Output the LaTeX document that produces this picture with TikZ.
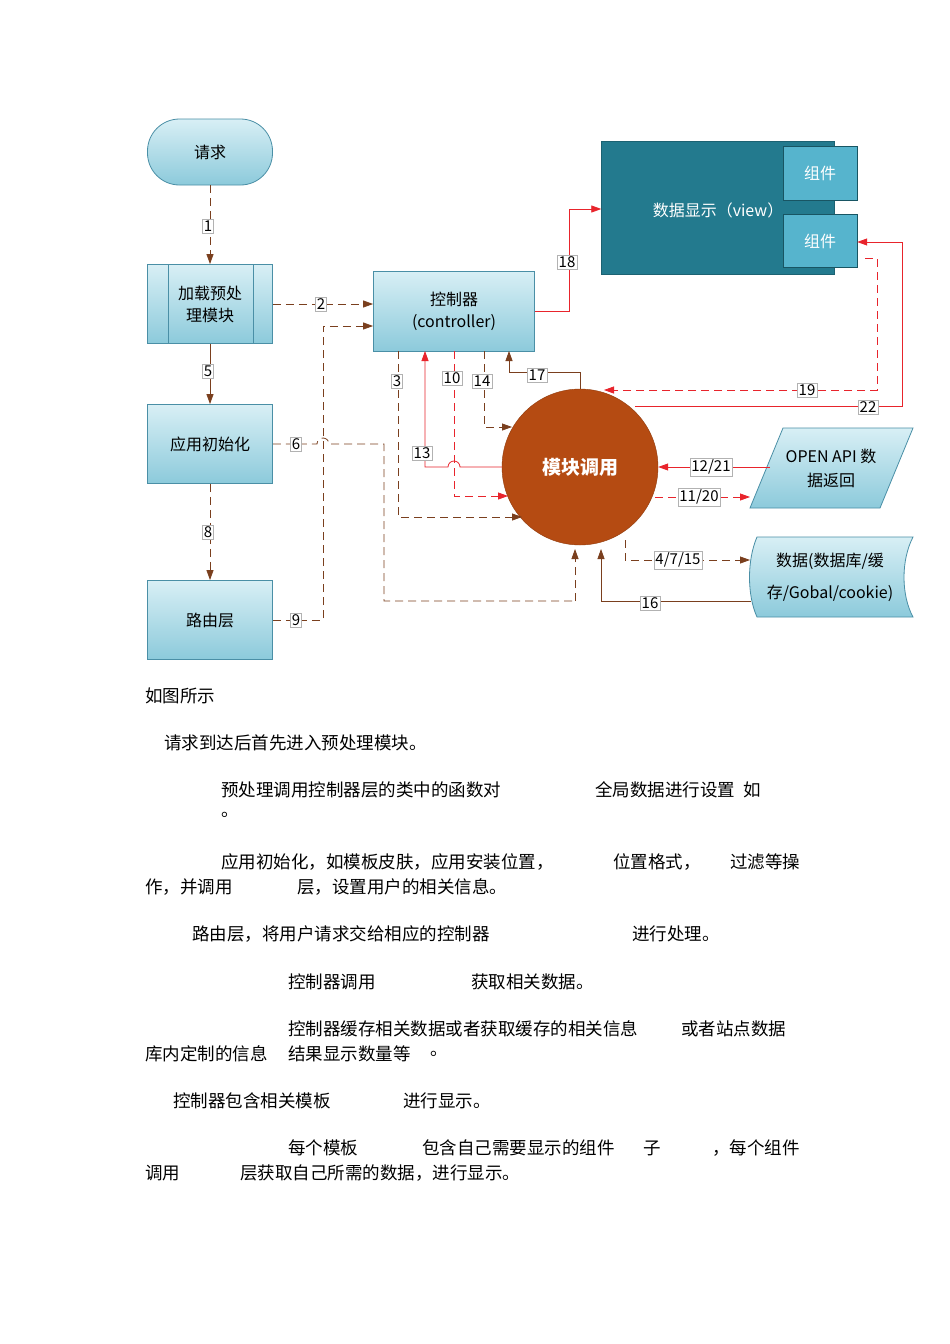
\documentclass[tikz,border=0pt]{standalone}
\usepackage{fontspec}
\setmainfont{Noto Sans CJK SC}
\newfontfamily\cjk{Noto Sans CJK SC}
\usetikzlibrary{arrows.meta,shapes.geometric}
\definecolor{brn}{HTML}{7A3F1E}
\definecolor{rd}{HTML}{E8242C}
\definecolor{bxt}{HTML}{D8EFF5}
\definecolor{bxb}{HTML}{8CCADB}
\definecolor{bxd}{HTML}{4A8FA6}
\definecolor{vw}{HTML}{237A8E}
\definecolor{cmp}{HTML}{56B4CD}
\definecolor{org}{HTML}{B54B12}
\begin{document}
\begin{tikzpicture}[x=1pt,y=-1pt,
 bx/.style={draw=bxd,thick,top color=bxt,bottom color=bxb,minimum width=125pt,minimum height=79pt,font=\fontsize{16}{22}\selectfont,align=center},
 lbl/.style={draw=gray!60,fill=white,inner sep=1.5pt,font=\fontsize{15}{15}\selectfont},
 bd/.style={brn,thick,dash pattern=on 8pt off 5pt,-{Triangle[length=10pt,width=7pt]}},
 bs/.style={brn,thick,-{Triangle[length=10pt,width=7pt]}},
 rdd/.style={rd,thick,dash pattern=on 8pt off 5pt,-{Triangle[length=10pt,width=7pt]}},
 rs/.style={rd,thick,-{Triangle[length=10pt,width=7pt]}},
 tx/.style={anchor=west,inner sep=0pt,font=\fontsize{17.5}{18}\selectfont}]
\useasboundingbox[fill=white] (0,0) rectangle (950,1344);
% nodes
\node[bx,rounded corners=32pt,minimum height=66pt] (req) at (210,152) {请求};
\node[bx] (pre) at (210,304) {加载预处\\理模块};
\draw[bxd,thick] (168,265) -- (168,344) (253,265) -- (253,344);
\node[bx] (init) at (210,444) {应用初始化};
\node[bx] (route) at (210,620) {路由层};
\node[bx,minimum width=161pt,minimum height=80pt] (ctrl) at (454,311) {控制器\\(controller)};
\node[draw=vw!80!black,fill=vw,minimum width=233pt,minimum height=133pt] (view) at (718,208) {};
\node[text=white,font=\fontsize{16}{16}\selectfont] (vt) at (718,210) {数据显示（view）};
\node[draw=vw!70!black,fill=cmp,minimum width=74pt,minimum height=54pt,text=white,font=\fontsize{16}{16}\selectfont] (c1) at (820,173) {组件};
\node[draw=vw!70!black,fill=cmp,minimum width=74pt,minimum height=53pt,text=white,font=\fontsize{16}{16}\selectfont] (c2) at (820,241) {组件};
\node[circle,draw=org!80!black,fill=org,minimum size=156pt,text=white,font=\bfseries\fontsize{19}{19}\selectfont] (mod) at (580,467) {模块调用};
\draw[bxd,thick,top color=bxt,bottom color=bxb] (783,428) -- (913,428) -- (880,508) -- (750,508) -- cycle;
\node[align=center,font=\fontsize{16}{24}\selectfont] (api) at (831,468) {OPEN API 数\\据返回};
\draw[bxd,thick,top color=bxt,bottom color=bxb] (757,537) -- (913,537) .. controls (901,560) and (901,595) .. (913,617) -- (757,617) .. controls (747,595) and (747,560) .. (757,537) -- cycle;
\node[align=center,font=\fontsize{16}{32}\selectfont] (data) at (830,577) {数据(数据库/缓\\存/Gobal/cookie)};
% connectors
\draw[bd] (req) -- (pre);
\draw[bs] (pre) -- (init);
\draw[bd] (init) -- (route);
\draw[bd] (pre.east) -- (ctrl.west|-pre.east);
\draw[bd] (route.east) -- (323,620) -- (323,326) -- (ctrl.west|-0,326);
\draw[brn,thick,dash pattern=on 8pt off 5pt] (init.east) -- (317,444) arc[start angle=180,end angle=360,radius=6] -- (384,444) -- (384,601) -- (575,601);
\draw[bd] (575,601) -- (575,549);
\draw[bd] (398,351) -- (398,517) -- (522,517);
\draw[rdd] (454,351) -- (454,496) -- (508,496);
\draw[bd] (484,351) -- (484,427) -- (512,427);
\draw[rs] (mod.west) -- (460,467) arc[start angle=0,end angle=-180,radius=6] -- (425,467) -- (425,351);
\draw[bs] (mod.north) -- (580,372) -- (509,372) -- (509,351);
\draw[rs] (ctrl.east|-0,311) -- (569,311) -- (569,209) -- (view.west|-0,209);
\draw[rdd] (865,258) -- (877,258) -- (877,390) -- (604,390);
\draw[rs] (635,406) -- (902,406) -- (902,242) -- (c2.east|-0,242);
\draw[rs] (770,467) -- (mod.east);
\draw[rdd] (655,497) -- (750,497);
\draw[bd] (625,540) -- (625,560) -- (750,560);
\draw[bs] (751,601) -- (601,601) -- (601,549);
% labels
\node[lbl] (l1) at (208,226) {1};
\node[lbl] (l2) at (321,304) {2};
\node[lbl] (l5) at (208,371) {5};
\node[lbl] (l6) at (296,444) {6};
\node[lbl] (l8) at (208,532) {8};
\node[lbl] (l9) at (296,620) {9};
\node[lbl] (l3) at (397,381) {3};
\node[lbl] (l10) at (452,378) {10};
\node[lbl] (l14) at (482,381) {14};
\node[lbl] (l13) at (422,453) {13};
\node[lbl] (l17) at (537,375) {17};
\node[lbl] (l18) at (567,262) {18};
\node[lbl] (l19) at (807,390) {19};
\node[lbl] (l22) at (868,407) {22};
\node[lbl] (l12) at (711,467) {12/21};
\node[lbl] (l11) at (699,497) {11/20};
\node[lbl] (l4) at (678,560) {4/7/15};
\node[lbl] (l16) at (650,603) {16};
% body text
\node[tx] (t1) at (145,696) {如图所示};
\node[tx] (t2) at (164,743) {请求到达后首先进入预处理模块。};
\node[tx] (t3a) at (221,790) {预处理调用控制器层的类中的函数对};
\node[tx] (t3b) at (595,790) {全局数据进行设置\hspace{0.5em}如};
\node[tx] (t3c) at (221,815) {。};
\node[tx] (t4a) at (221,862) {应用初始化，如模板皮肤，应用安装位置，};
\node[tx] (t4b) at (613,862) {位置格式，};
\node[tx] (t4c) at (730,862) {过滤等操};
\node[tx] (t4d) at (145,887) {作，并调用};
\node[tx] (t4e) at (297,887) {层，设置用户的相关信息。};
\node[tx] (t5a) at (192,934) {路由层，将用户请求交给相应的控制器};
\node[tx] (t5b) at (632,934) {进行处理。};
\node[tx] (t6a) at (288,982) {控制器调用};
\node[tx] (t6b) at (471,982) {获取相关数据。};
\node[tx] (t7a) at (288,1029) {控制器缓存相关数据或者获取缓存的相关信息};
\node[tx] (t7b) at (681,1029) {或者站点数据};
\node[tx] (t7c) at (145,1054) {库内定制的信息};
\node[tx] (t7d) at (288,1054) {结果显示数量等};
\node[tx] (t7e) at (430,1054) {。};
\node[tx] (t8a) at (173,1101) {控制器包含相关模板};
\node[tx] (t8b) at (403,1101) {进行显示。};
\node[tx] (t9a) at (288,1148) {每个模板};
\node[tx] (t9b) at (422,1148) {包含自己需要显示的组件};
\node[tx] (t9c) at (643,1148) {子};
\node[tx] (t9d) at (712,1148) {，每个组件};
\node[tx] (t9e) at (145,1173) {调用};
\node[tx] (t9f) at (240,1173) {层获取自己所需的数据，进行显示。};
\end{tikzpicture}
\end{document}
